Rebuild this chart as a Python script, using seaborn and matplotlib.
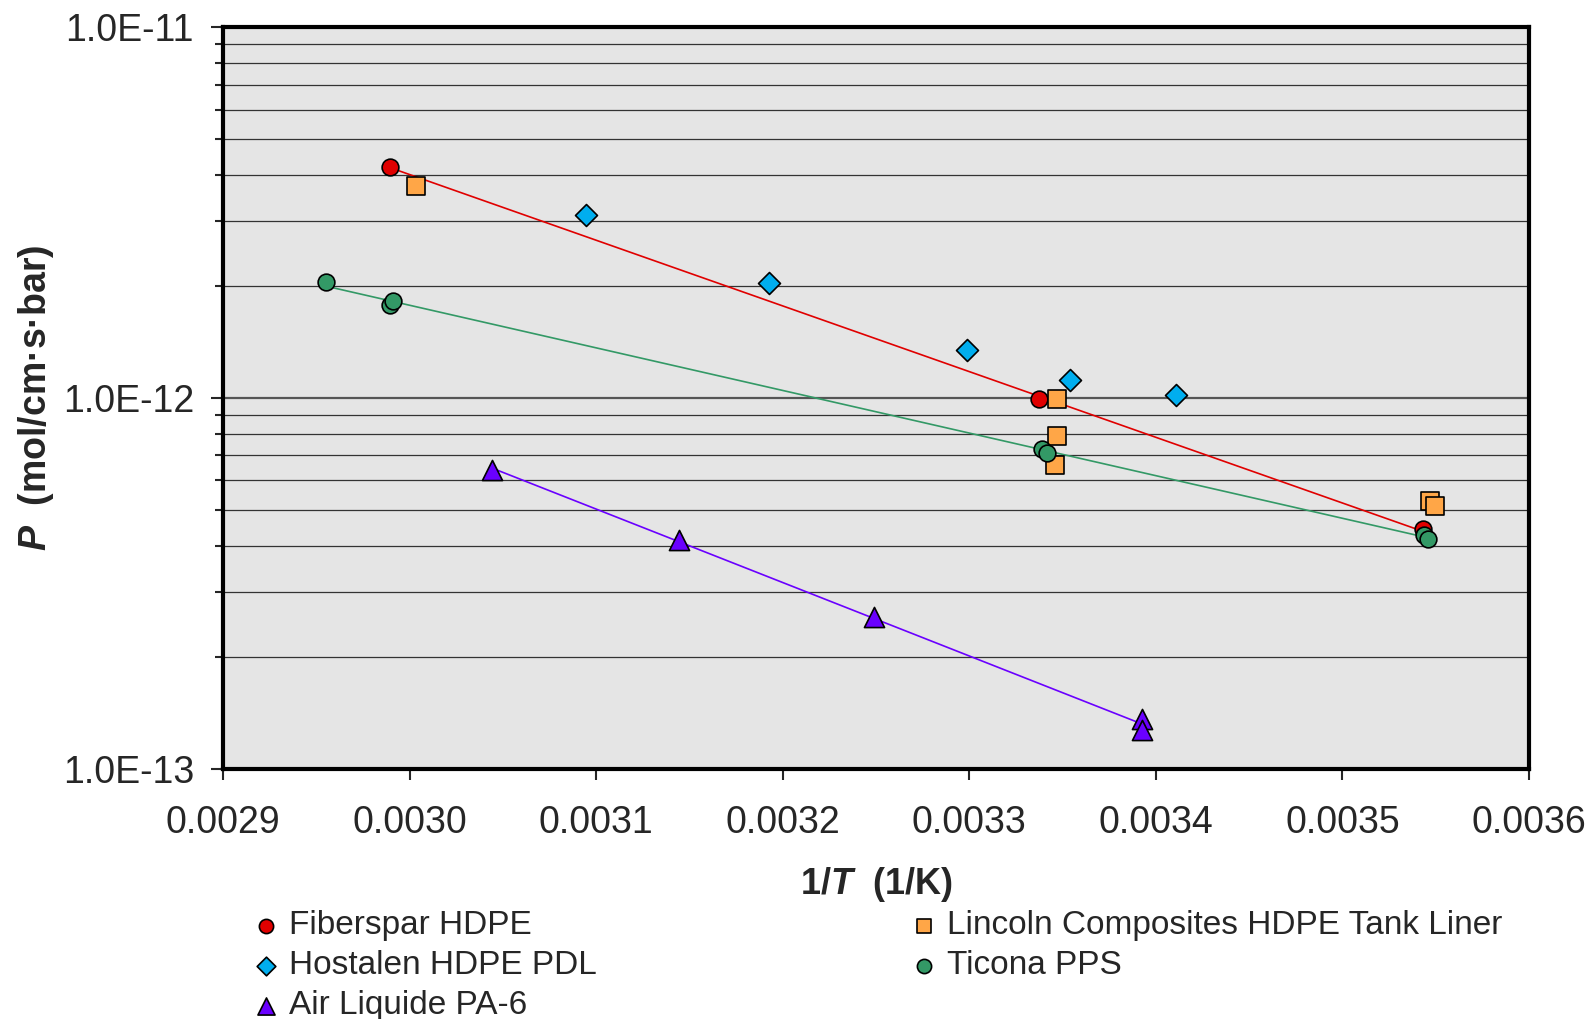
import numpy as np
import matplotlib
matplotlib.use("Agg")
import matplotlib.pyplot as plt
import seaborn as sns
from matplotlib.ticker import FixedLocator, MultipleLocator, FuncFormatter, NullFormatter

# values (x = 1/T in 1/K, P in mol/cm·s·bar)
fiber_x = [0.0029896, 0.0033373, 0.0035430]
fiber_p = [4.21e-12, 9.94e-13, 4.42e-13]
lincoln_x = [0.0030034, 0.0033472, 0.0033470, 0.0033458, 0.0035472, 0.0035494]
lincoln_p = [3.74e-12, 9.96e-13, 7.88e-13, 6.61e-13, 5.28e-13, 5.12e-13]
hostalen_x = [0.0030944, 0.0031929, 0.0032986, 0.0033541, 0.0034107]
hostalen_p = [3.11e-12, 2.04e-12, 1.35e-12, 1.12e-12, 1.02e-12]
ticona_x = [0.0029554, 0.0029896, 0.0029913, 0.0033388, 0.0033418, 0.0035439, 0.0035458]
ticona_p = [2.05e-12, 1.78e-12, 1.83e-12, 7.30e-13, 7.11e-13, 4.27e-13, 4.17e-13]
airliq_x = [0.0030444, 0.0031442, 0.0032489, 0.0033925, 0.0033925]
airliq_p = [6.39e-13, 4.14e-13, 2.57e-13, 1.36e-13, 1.27e-13]

y_major = [1e-13, 1e-12, 1e-11]

names = ["Fiberspar HDPE", "Lincoln Composites HDPE Tank Liner",
         "Hostalen HDPE PDL", "Ticona PPS", "Air Liquide PA-6"]
xs = [fiber_x, lincoln_x, hostalen_x, ticona_x, airliq_x]
ps = [fiber_p, lincoln_p, hostalen_p, ticona_p, airliq_p]
colors = ["#E00000", "#FFA647", "#00AEEF", "#339966", "#6A00FF"]
markers = ["o", "s", "D", "o", "^"]
sizes = [145, 155, 125, 145, 210]
with_trend = [True, False, False, True, True]

sns.set_style("ticks")
plt.rcParams['font.family'] = ['Liberation Sans', 'DejaVu Sans']
plt.rcParams['mathtext.fontset'] = 'custom'
plt.rcParams['mathtext.rm'] = 'Liberation Sans'
plt.rcParams['mathtext.bf'] = 'Liberation Sans:bold'
plt.rcParams['mathtext.it'] = 'Liberation Sans:italic'
plt.rcParams['mathtext.bfit'] = 'Liberation Sans:bold:italic'

fig = plt.figure(figsize=(15.9, 10.19), dpi=100)
ax = fig.add_axes([0.1403, 0.2457, 0.8213, 0.7274])
ax.set_facecolor("#E5E5E5")

handles = {}
for name, x, p, c, m, s, tr in zip(names, xs, ps, colors, markers, sizes, with_trend):
    if tr:
        # exponential trendline like the spreadsheet one
        k, b = np.polyfit(x, np.log10(p), 1)
        xx = np.array([min(x), max(x)])
        ax.plot(xx, 10 ** (k * xx + b), color=c, lw=1.2, zorder=3)
    sns.scatterplot(x=x, y=p, ax=ax, marker=m, s=s, color=c,
                    edgecolor="black", linewidth=1.2, zorder=4, label=name, legend=False)
    handles[name] = ax.collections[-1]

ax.set_yscale("log")
ax.set_xlim(0.0029, 0.0036)
ax.set_ylim(1e-13, 1e-11)

ax.xaxis.set_major_locator(MultipleLocator(0.0001))
ax.xaxis.set_major_formatter(FuncFormatter(lambda v, pos: "%.4f" % v))
ax.yaxis.set_major_locator(FixedLocator(y_major))
ax.yaxis.set_minor_locator(FixedLocator([m * d for d in y_major[:-1] for m in range(2, 10)]))
ax.yaxis.set_major_formatter(FuncFormatter(lambda v, pos: "%.1E" % v))
ax.yaxis.set_minor_formatter(NullFormatter())

ax.grid(False, axis="x")
ax.grid(True, axis="y", which="minor", color="#333333", lw=0.9)
ax.grid(True, axis="y", which="major", color="#555555", lw=1.6)
ax.set_axisbelow(True)

for sp in ax.spines.values():
    sp.set_visible(True)
    sp.set_color("black")
    sp.set_linewidth(3)

ax.tick_params(axis="y", which="major", direction="out", length=9, width=1.5,
               labelsize=27, pad=12)
ax.tick_params(axis="y", which="minor", direction="out", length=6, width=1.5)
ax.tick_params(axis="x", which="major", direction="out", length=8, width=1.5,
               labelsize=27, pad=18)

ax.set_xlabel(r"$\mathbf{1/}\mathbfit{T}\mathbf{\ \ (1/K)}$", fontsize=26)
ax.set_ylabel(r"$\mathbfit{P}\mathbf{\ \ (mol/cm·s·bar)}$", fontsize=27)
ax.xaxis.set_label_coords(0.5, -0.1304)
ax.yaxis.set_label_coords(-0.128, 0.5)

order = ["Fiberspar HDPE", "Hostalen HDPE PDL", "Air Liquide PA-6",
         "Lincoln Composites HDPE Tank Liner", "Ticona PPS"]
fig.legend([handles[n] for n in order], order, loc="upper left",
           bbox_to_anchor=(0.159, 0.1065), ncol=2, frameon=False, fontsize=24,
           handlelength=0.8, handletextpad=0.3, labelspacing=0.27,
           columnspacing=9.4, borderpad=0, borderaxespad=0, markerscale=0.85)

fig.savefig("out.png", dpi=100)
